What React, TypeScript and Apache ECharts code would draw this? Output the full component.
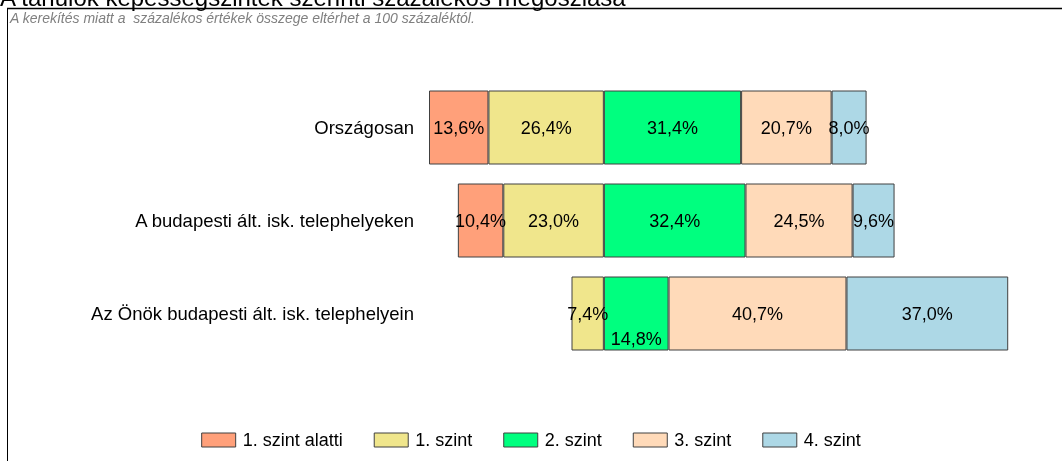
import React, { useEffect, useRef } from "react";
import * as echarts from "echarts";

const categories = [
  "Országosan",
  "A budapesti ált. isk. telephelyeken",
  "Az Önök budapesti ált. isk. telephelyein",
];
const belowLevel1 = [13.6, 10.4, null];
const level1 = [26.4, 23.0, 7.4];
const level2 = [31.4, 32.4, 14.8];
const level3 = [20.7, 24.5, 40.7];
const level4 = [8.0, 9.6, 37.0];
const seriesNames = ["1. szint alatti", "1. szint", "2. szint", "3. szint", "4. szint"];
const colors = ["#FFA07A", "#F0E68C", "#00FF7F", "#FFDAB9", "#ADD8E6"];

const FONT = "Arial, 'Liberation Sans', sans-serif";

export default function App() {
  const ref = useRef<HTMLDivElement>(null);
  useEffect(() => {
    if (!ref.current) return;
    const chart = echarts.init(ref.current, undefined, { renderer: "svg" });
    const fmt = (p: any) => {
      const v = p.value;
      if (v === null || v === undefined || v === "-" || v === 0) return "";
      return Math.abs(v).toFixed(1).replace(".", ",") + "%";
    };
    const mk = (name: string, color: string, data: any[]) => ({
      name,
      type: "bar",
      stack: "total",
      barWidth: 74,
      data,
      itemStyle: { color, borderColor: "#404040", borderWidth: 1 },
      label: {
        show: true,
        position: "inside",
        formatter: fmt,
        color: "#000",
        fontSize: 18,
        fontFamily: FONT,
      },
      emphasis: { disabled: true },
    });
    const level2Data = level2.map((v, i) =>
      i === 2 ? { value: v, label: { position: "insideBottom", distance: 3 } } : v
    );
    chart.setOption({
      animation: false,
      textStyle: { fontFamily: FONT },
      graphic: [
        {
          type: "text",
          left: 0,
          top: -15,
          style: {
            text: "A tanulók képességszintek szerinti százalékos megoszlása",
            fontSize: 24,
            fontFamily: FONT,
            fill: "#000",
          },
        },
        {
          type: "line",
          shape: { x1: 7, y1: 8.5, x2: 1062, y2: 8.5 },
          style: { stroke: "#000", lineWidth: 1.5 },
        },
        {
          type: "line",
          shape: { x1: 7.5, y1: 8, x2: 7.5, y2: 461 },
          style: { stroke: "#000", lineWidth: 1 },
        },
        {
          type: "text",
          left: 10,
          top: 11,
          style: {
            text: "A kerekítés miatt a  százalékos értékek összege eltérhet a 100 százaléktól.",
            fontSize: 14,
            fontStyle: "italic",
            fontFamily: FONT,
            fill: "#808080",
          },
        },
      ],
      grid: { left: 429, right: 21, top: 81, bottom: 101, containLabel: false },
      xAxis: { type: "value", min: -40, max: 100, show: false },
      yAxis: {
        type: "category",
        inverse: true,
        data: categories,
        axisLine: { show: false },
        axisTick: { show: false },
        axisLabel: { fontSize: 18.5, color: "#000", margin: 15, fontFamily: FONT },
      },
      legend: {
        data: seriesNames,
        left: "center",
        top: 426,
        icon: "rect",
        itemWidth: 34,
        itemHeight: 14,
        itemGap: 31,
        textStyle: { fontSize: 18, color: "#000", fontFamily: FONT, padding: [0, 0, 0, 2] },
        itemStyle: { borderColor: "#404040", borderWidth: 1 },
        selectedMode: false,
      },
      series: [
        mk(seriesNames[1], colors[1], level1.map((v) => (v == null ? null : -v))),
        mk(seriesNames[0], colors[0], belowLevel1.map((v) => (v == null ? null : -v))),
        mk(seriesNames[2], colors[2], level2Data),
        mk(seriesNames[3], colors[3], level3),
        mk(seriesNames[4], colors[4], level4),
      ],
    });
    return () => chart.dispose();
  }, []);
  return (
    <div
      ref={ref}
      style={{ position: "fixed", left: 0, top: 0, width: 1062, height: 461 }}
    />
  );
}
